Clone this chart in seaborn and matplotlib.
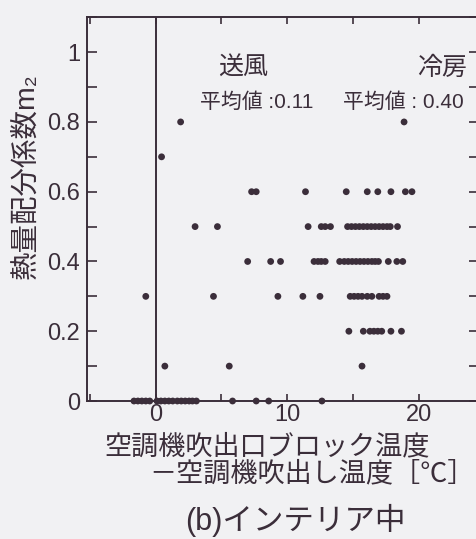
import numpy as np
import pandas as pd
import matplotlib
matplotlib.use("Agg")
import matplotlib.pyplot as plt
import seaborn as sns
from matplotlib.ticker import MultipleLocator

# ---- data ----
x_m00 = [-1.65, -1.35, -1.05, -0.75, -0.45, 0.1, 0.4, 0.7, 1.0, 1.3,
         1.65, 1.95, 2.25, 2.55, 2.8, 3.1, 5.85, 7.65, 8.6, 12.65]
x_m01 = [0.7, 5.6, 15.7]
x_m02 = [14.7, 15.8, 16.3, 16.6, 16.9, 17.2, 17.9, 18.7]
x_m03 = [-0.75, 4.4, 9.3, 11.2, 12.5, 14.8, 15.1, 15.4, 15.7, 16.1, 16.45,
         17.0, 17.3, 17.6]
x_m04 = [7.0, 8.75, 9.5, 12.05, 12.35, 12.6, 12.9, 14.0, 14.35, 14.65, 14.95,
         15.25, 15.55, 15.85, 16.15, 16.45, 16.7, 16.95, 17.7, 18.35, 18.8]
x_m05 = [3.0, 4.7, 11.6, 12.6, 12.9, 13.3, 14.6, 14.9, 15.2, 15.5, 15.8,
         16.1, 16.4, 16.7, 17.0, 17.3, 17.6, 17.85, 18.4]
x_m06 = [7.3, 7.65, 11.4, 14.5, 16.1, 16.9, 17.9, 19.0, 19.5]
x_m07 = [0.45]
x_m08 = [1.9, 18.9]
m2_levels = [0.0, 0.1, 0.2, 0.3, 0.4, 0.5, 0.6, 0.7, 0.8]

y_ticklabels = ["0", "0.2", "0.4", "0.6", "0.8", "1"]
x_ticklabels = ["0", "10", "20"]

xlabel_line1 = "空調機吹出口ブロック温度"
xlabel_line2 = "－空調機吹出し温度［℃］"
ylabel_text = "熱量配分係数m₂"
title_text = "(b)インテリア中"
label_fan = "送風"
label_cool = "冷房"
mean_fan = "平均値 :0.11"
mean_cool = "平均値 : 0.40"

rows = [x_m00, x_m01, x_m02, x_m03, x_m04, x_m05, x_m06, x_m07, x_m08]
df = pd.DataFrame({
    "dT": [x for xs in rows for x in xs],
    "m2": [lvl for xs, lvl in zip(rows, m2_levels) for _ in xs],
})

# ---- style ----
BG = "#f1f1f3"
INK = "#3b2e3a"
sns.set_style("ticks")
FAM = ["Liberation Sans", "Noto Sans CJK JP", "DejaVu Sans"]
plt.rcParams["font.family"] = FAM

W, H = 477, 539
fig = plt.figure(figsize=(W / 100, H / 100), dpi=100, facecolor=BG)
ax = fig.add_axes([87.3 / W, 1 - 401 / H, (479 - 87.3) / W, (401 - 17.3) / H])
ax.set_facecolor(BG)

sns.scatterplot(data=df, x="dT", y="m2", ax=ax, color=INK, s=24,
                edgecolor="none", linewidth=0, clip_on=False, zorder=3)

ax.set_xlim(-5.2, 24.6)
ax.set_ylim(0, 1.1)
ax.axvline(0, color=INK, lw=1.4, zorder=2)

for sp in ax.spines.values():
    sp.set_color(INK)
    sp.set_linewidth(1.4)

ax.set_xticks([0, 10, 20])
ax.set_xticklabels(x_ticklabels)
ax.xaxis.set_minor_locator(MultipleLocator(5))
ax.set_yticks([0, 0.2, 0.4, 0.6, 0.8, 1.0])
ax.set_yticklabels(y_ticklabels)
ax.yaxis.set_minor_locator(MultipleLocator(0.1))

ax.tick_params(axis="both", which="both", direction="in", colors=INK,
               width=1.2, labelsize=17, labelcolor=INK)
ax.tick_params(axis="x", which="both", length=5, top=True, pad=2)
ax.tick_params(axis="y", which="both", length=7, right=True, pad=5)

ax.set_xlabel("")
ax.set_ylabel("")

# annotations
ax.text(4.74, 0.954, label_fan, fontsize=18, color=INK, ha="left", va="center")
ax.text(19.9, 0.954, label_cool, fontsize=18, color=INK, ha="left", va="center")
ax.text(3.37, 0.857, mean_fan, fontsize=15, color=INK, ha="left", va="center")
ax.text(14.26, 0.857, mean_cool, fontsize=15, color=INK, ha="left", va="center")

# y label (rotated)
fig.text(26.5 / W, 1 - 279 / H, ylabel_text, rotation=90, fontsize=20.5,
         color=INK, ha="center", va="bottom", family=FAM)

fig.text(267.5 / W, 1 - 447 / H, xlabel_line1, fontsize=19.5, color=INK,
         ha="center", va="center")
t2 = fig.text(316 / W, 1 - 474 / H, xlabel_line2, fontsize=19.5, color=INK,
              ha="center", va="center")
t3 = fig.text(295 / W, 1 - 523 / H, title_text, fontsize=22, color=INK,
              ha="center", va="center")

# keep the edge texts inside the canvas
fig.canvas.draw()
r = fig.canvas.get_renderer()
bb = t2.get_window_extent(r)
if bb.x1 > W - 2:
    t2.set_x((316 - (bb.x1 - (W - 2))) / W)
bb = t3.get_window_extent(r)
if bb.y0 < 2:
    t3.set_y((H - 523 + (2 - bb.y0)) / H)

fig.savefig("out.png", dpi=100, facecolor=BG)
